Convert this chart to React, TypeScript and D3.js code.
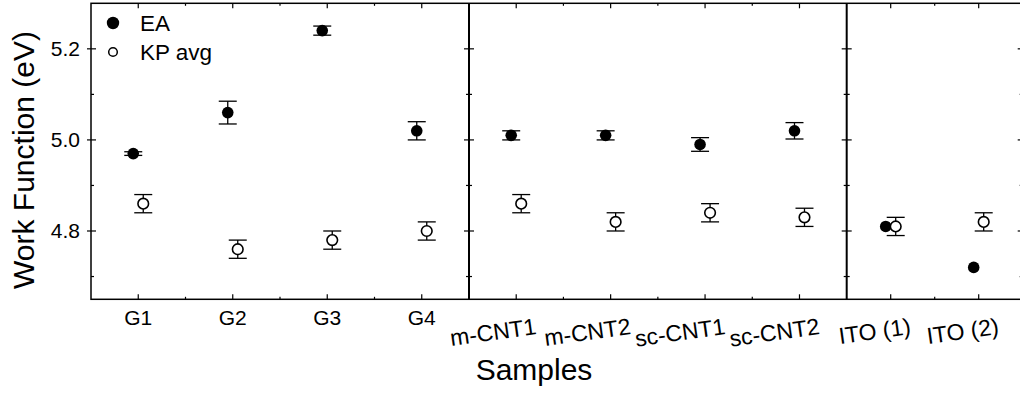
import React from "react";
import * as d3 from "d3";

// Sample groups, one per panel
const groupGraphene = ["G1", "G2", "G3", "G4"];
const groupCNT = ["m-CNT1", "m-CNT2", "sc-CNT1", "sc-CNT2"];
const groupITO = ["ITO (1)", "ITO (2)"];

// Electron affinity derived work function (eV) and its uncertainty
const eaValues = [4.97, 5.06, 5.24, 5.02, 5.01, 5.01, 4.99, 5.02, 4.81, 4.72];
const eaErrors = [0.004, 0.025, 0.01, 0.02, 0.01, 0.01, 0.015, 0.018, 0, 0];

// Kelvin probe averaged work function (eV) and its uncertainty
const kpValues = [4.86, 4.76, 4.78, 4.8, 4.86, 4.82, 4.84, 4.83, 4.81, 4.82];
const kpErrors = [0.02, 0.02, 0.02, 0.02, 0.02, 0.02, 0.02, 0.02, 0.02, 0.02];

const yMajorTicks = [4.8, 5.0, 5.2];
const yMinorTicks = [4.7, 4.9, 5.1];

const W = 1020;
const H = 393;
const top = 3.3;
const bottom = 299.3;
const left = 91;
const div1 = 469;
const div2 = 846.7;
const right = 1022.7;
const FONT = "'Liberation Sans', Arial, Helvetica, sans-serif";

const y = d3.scaleLinear().domain([4.65, 5.3]).range([bottom, top]);

const panels = [
  { cats: groupGraphene, x0: left, x1: div1, start: 0, tilted: false },
  { cats: groupCNT, x0: div1, x1: div2, start: 4, tilted: true },
  { cats: groupITO, x0: div2, x1: right, start: 8, tilted: true },
].map((p) => ({
  ...p,
  scale: d3.scalePoint<string>().domain(p.cats).range([p.x0, p.x1]).padding(0.5),
}));

const CAP = 9;
const OFFSET = 5;

function ErrorBar({ cx, v, e }: { cx: number; v: number; e: number }) {
  if (!e) return null;
  const y1 = y(v + e);
  const y2 = y(v - e);
  return (
    <g stroke="#000" strokeWidth={1.3}>
      <line x1={cx} x2={cx} y1={y1} y2={y2} />
      <line x1={cx - CAP} x2={cx + CAP} y1={y1} y2={y1} />
      <line x1={cx - CAP} x2={cx + CAP} y1={y2} y2={y2} />
    </g>
  );
}

export default function App() {
  const borders = [left, div1, div2, right];
  return (
    <svg
      width={W}
      height={H}
      style={{ position: "absolute", left: 0, top: 0, background: "#fff" }}
      fontFamily={FONT}
    >
      <rect x={0} y={0} width={W} height={H} fill="#fff" />

      {/* y ticks on every vertical border */}
      {borders.map((bx, i) => (
        <g key={"yt" + i} stroke="#000" strokeWidth={1.2}>
          {yMajorTicks.map((t) => (
            <line
              key={"M" + t}
              x1={i === 0 ? bx - 4 : bx - 5}
              x2={i === 3 ? bx : bx + 5}
              y1={y(t)}
              y2={y(t)}
            />
          ))}
          {yMinorTicks.map((t) => (
            <line
              key={"m" + t}
              x1={i === 0 ? bx : bx - 3}
              x2={i === 3 ? bx : bx + 3}
              y1={y(t)}
              y2={y(t)}
            />
          ))}
        </g>
      ))}

      {/* x ticks top and bottom, inward */}
      {panels.map((p, pi) => {
        const step = p.scale.step();
        const minors = p.cats.slice(1).map((c) => (p.scale(c) as number) - step / 2);
        return (
          <g key={"xt" + pi} stroke="#000" strokeWidth={1.2}>
            {p.cats.map((c) => {
              const cx = p.scale(c) as number;
              return (
                <g key={c}>
                  <line x1={cx} x2={cx} y1={bottom} y2={bottom - 5} />
                  <line x1={cx} x2={cx} y1={top} y2={top + 5} />
                </g>
              );
            })}
            {minors.map((mx, k) => (
              <g key={"mn" + k}>
                <line x1={mx} x2={mx} y1={bottom} y2={bottom - 2.5} />
                <line x1={mx} x2={mx} y1={top} y2={top + 2.5} />
              </g>
            ))}
          </g>
        );
      })}

      {/* frame and panel dividers */}
      <rect
        x={left}
        y={top}
        width={right - left}
        height={bottom - top}
        fill="none"
        stroke="#000"
        strokeWidth={1.5}
      />
      <line x1={div1} x2={div1} y1={top} y2={bottom} stroke="#000" strokeWidth={2} />
      <line x1={div2} x2={div2} y1={top} y2={bottom} stroke="#000" strokeWidth={2} />

      {/* y tick labels */}
      {yMajorTicks.map((t) => (
        <text key={t} x={80} y={y(t) + 7.5} textAnchor="end" fontSize={21}>
          {d3.format(".1f")(t)}
        </text>
      ))}

      {/* x tick labels */}
      {panels.map((p) =>
        p.cats.map((c) => {
          const cx = p.scale(c) as number;
          if (!p.tilted) {
            return (
              <text key={c} x={cx} y={325} textAnchor="middle" fontSize={21}>
                {c}
              </text>
            );
          }
          const ax = cx + 21;
          const ay = 334;
          return (
            <text
              key={c}
              x={ax}
              y={ay}
              textAnchor="end"
              fontSize={23}
              transform={`rotate(-8, ${ax}, ${ay})`}
            >
              {c}
            </text>
          );
        })
      )}

      {/* data points */}
      {panels.map((p) =>
        p.cats.map((c, k) => {
          const idx = p.start + k;
          const cx = p.scale(c) as number;
          const xe = cx - OFFSET;
          const xk = cx + OFFSET;
          return (
            <g key={"pt" + c}>
              <ErrorBar cx={xe} v={eaValues[idx]} e={eaErrors[idx]} />
              <circle cx={xe} cy={y(eaValues[idx])} r={5.8} fill="#000" />
              <ErrorBar cx={xk} v={kpValues[idx]} e={kpErrors[idx]} />
              <circle
                cx={xk}
                cy={y(kpValues[idx])}
                r={5.3}
                fill="#fff"
                stroke="#000"
                strokeWidth={1.6}
              />
            </g>
          );
        })
      )}

      {/* legend */}
      <circle cx={113} cy={23} r={6.2} fill="#000" />
      <text x={140} y={31} fontSize={22.5}>
        EA
      </text>
      <circle cx={113} cy={52} r={4.3} fill="#fff" stroke="#000" strokeWidth={1.5} />
      <text x={140} y={60} fontSize={22.5}>
        KP avg
      </text>

      {/* axis titles */}
      <text x={534} y={380} textAnchor="middle" fontSize={30}>
        Samples
      </text>
      <text
        x={0}
        y={0}
        textAnchor="middle"
        fontSize={30}
        transform={`translate(34, 160) rotate(-90)`}
      >
        Work Function (eV)
      </text>
    </svg>
  );
}
